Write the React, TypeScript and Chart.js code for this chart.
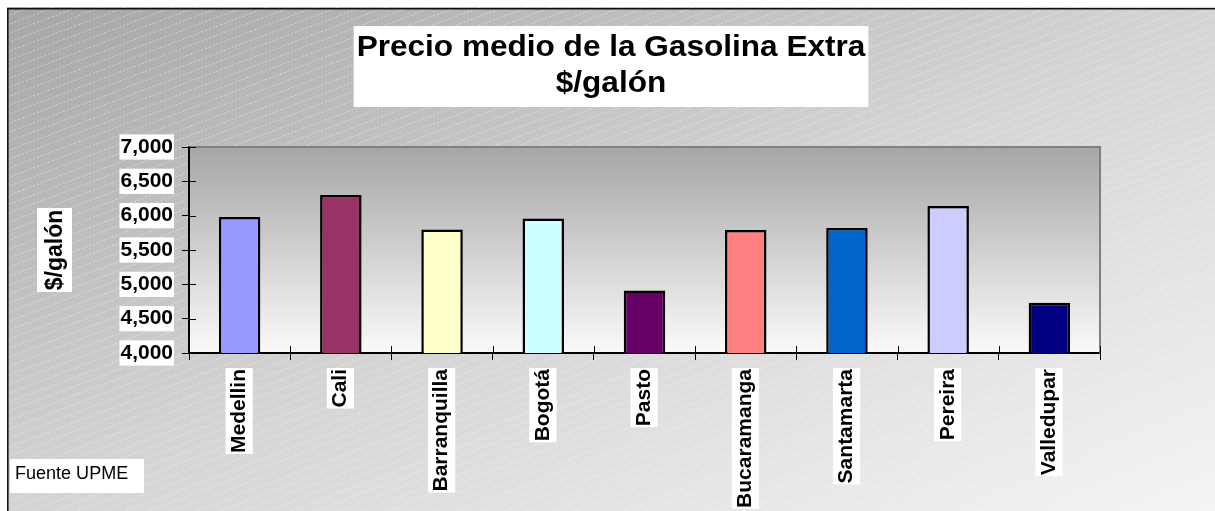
import React, { useEffect, useRef } from "react";
import { Chart, registerables } from "chart.js";

Chart.register(...registerables);

const categories = ["Medellin", "Cali", "Barranquilla", "Bogotá", "Pasto", "Bucaramanga", "Santamarta", "Pereira", "Valledupar"];
const prices = [5980, 6300, 5800, 5960, 4910, 5790, 5820, 6140, 4730];
const barColors = ["#9999FF", "#993366", "#FFFFCC", "#CCFFFF", "#660066", "#FF8080", "#0066CC", "#CCCCFF", "#000080"];
const yTicks = [4000, 4500, 5000, 5500, 6000, 6500, 7000];
const titleLines = ["Precio medio de la Gasolina Extra", "$/galón"];
const yAxisTitle = "$/galón";
const sourceNote = "Fuente UPME";

const FONT = '"Liberation Sans", Arial, Helvetica, sans-serif';
const W = 1208;
const H = 504;

const decor = {
  id: "decor",
  beforeDraw(chart: any) {
    const { ctx, chartArea: a } = chart;
    const w = chart.width;
    const h = chart.height;
    ctx.save();
    const k = 2 / (h / w + w / h);
    const g = ctx.createLinearGradient(0, 0, k * h, k * w);
    g.addColorStop(0, "#a6a6a6");
    g.addColorStop(0.5, "#d4d4d4");
    g.addColorStop(1, "#f4f4f4");
    ctx.fillStyle = g;
    ctx.fillRect(0, 0, w, h);
    ctx.strokeStyle = "rgba(255,255,255,0.45)";
    ctx.lineWidth = 1;
    ctx.setLineDash([2, 2]);
    const slope = 0.38;
    const gap = 9;
    for (let c = 0; c < h + w * slope; c += gap) {
      ctx.beginPath();
      ctx.moveTo(0, c);
      ctx.lineTo(w, c - w * slope);
      ctx.stroke();
    }
    ctx.setLineDash([]);
    ctx.strokeStyle = "#111";
    ctx.lineWidth = 1.6;
    ctx.beginPath();
    ctx.moveTo(0.8, h + 5);
    ctx.lineTo(0.8, 1.8);
    ctx.lineTo(w + 5, 1.8);
    ctx.stroke();
    const pg = ctx.createLinearGradient(0, a.top, 0, a.bottom);
    pg.addColorStop(0, "#a6a6a6");
    pg.addColorStop(1, "#fafafa");
    ctx.fillStyle = pg;
    ctx.fillRect(a.left, a.top, a.right - a.left, a.bottom - a.top);
    ctx.restore();
  },
  afterDatasetsDraw(chart: any) {
    const { ctx, chartArea: a } = chart;
    const xs = chart.scales.x;
    const ys = chart.scales.y;
    ctx.save();
    ctx.strokeStyle = "#808080";
    ctx.lineWidth = 2;
    ctx.beginPath();
    ctx.moveTo(a.left, a.top);
    ctx.lineTo(a.right, a.top);
    ctx.lineTo(a.right, a.bottom);
    ctx.stroke();
    ctx.strokeStyle = "#000";
    ctx.lineWidth = 1;
    ys.ticks.forEach((_t: any, i: number) => {
      const y = Math.round(ys.getPixelForTick(i)) + 0.5;
      ctx.beginPath();
      ctx.moveTo(a.left, y);
      ctx.lineTo(a.left + 7, y);
      ctx.stroke();
    });
    for (let i = 0; i <= categories.length; i++) {
      const x = Math.round(xs.getPixelForValue(i - 0.5)) + 0.5;
      ctx.beginPath();
      ctx.moveTo(x, a.bottom - 7);
      ctx.lineTo(x, a.bottom);
      ctx.stroke();
    }
    ctx.restore();
  },
  afterDraw(chart: any) {
    const { ctx, chartArea: a } = chart;
    const w = chart.width;
    ctx.save();
    const sx = 1.07;
    ctx.font = `bold 29.5px ${FONT}`;
    const tw = ctx.measureText(titleLines[0]).width * sx;
    const bw = tw + 6;
    ctx.fillStyle = "#fff";
    ctx.fillRect(w / 2 - bw / 2, 19, bw, 81);
    ctx.fillStyle = "#000";
    ctx.textAlign = "center";
    ctx.textBaseline = "alphabetic";
    [49, 85].forEach((by, i) => {
      ctx.save();
      ctx.translate(w / 2, by);
      ctx.scale(sx, 1);
      ctx.fillText(titleLines[i], 0, 0);
      ctx.restore();
    });
    ctx.save();
    ctx.translate(47.5, (a.top + a.bottom) / 2);
    ctx.rotate(-Math.PI / 2);
    ctx.fillStyle = "#fff";
    ctx.fillRect(-42, -17.5, 84, 35);
    ctx.fillStyle = "#000";
    ctx.font = `bold 23px ${FONT}`;
    ctx.textAlign = "center";
    ctx.textBaseline = "middle";
    ctx.fillText(yAxisTitle, 0, 1);
    ctx.restore();
    ctx.fillStyle = "#fff";
    ctx.fillRect(3, 452, 134, 34);
    ctx.fillStyle = "#000";
    ctx.font = `17.5px ${FONT}`;
    ctx.textAlign = "left";
    ctx.textBaseline = "alphabetic";
    ctx.save();
    ctx.translate(8, 472);
    ctx.scale(1.03, 1);
    ctx.fillText(sourceNote, 0, 0);
    ctx.restore();
    ctx.restore();
  },
};

export default function App() {
  const ref = useRef<HTMLCanvasElement | null>(null);
  useEffect(() => {
    if (!ref.current) return;
    const tickFont = { family: FONT, size: 21, weight: "bold" as const };
    const chart = new Chart(ref.current, {
      type: "bar",
      data: {
        labels: categories,
        datasets: [
          {
            data: prices,
            backgroundColor: barColors,
            borderColor: "#000",
            borderWidth: 2.5,
            borderSkipped: false,
            barPercentage: 0.41,
            categoryPercentage: 1,
          },
        ],
      },
      options: {
        animation: false,
        responsive: false,
        maintainAspectRatio: false,
        layout: { padding: { top: 140, right: 115, left: 0, bottom: 0 } },
        plugins: {
          legend: { display: false },
          title: { display: false },
          tooltip: { enabled: false },
        },
        scales: {
          x: {
            grid: { display: true, drawOnChartArea: false, drawTicks: true, tickLength: 7, color: "#000", lineWidth: 1, offset: true },
            border: { display: true, color: "#000", width: 2 },
            ticks: {
              font: tickFont,
              color: "#000",
              maxRotation: 90,
              minRotation: 90,
              padding: 9,
              labelOffset: -13,
              autoSkip: false,
              showLabelBackdrop: true,
              backdropColor: "#fff",
              backdropPadding: { x: 1, y: 1 },
            },
            afterFit(s: any) {
              s.height = 158;
            },
          },
          y: {
            min: 4000,
            max: 7000,
            afterBuildTicks(s: any) {
              s.ticks = yTicks.map((v) => ({ value: v }));
            },
            grid: { display: true, drawOnChartArea: false, drawTicks: true, tickLength: 7, color: "#000", lineWidth: 1 },
            border: { display: true, color: "#000", width: 2 },
            ticks: {
              font: tickFont,
              color: "#000",
              padding: 9,
              callback: (v: any) => Number(v).toLocaleString("en-US"),
              showLabelBackdrop: true,
              backdropColor: "#fff",
              backdropPadding: { x: 1, y: 0 },
            },
            afterFit(s: any) {
              s.width = 182;
            },
          },
        },
      },
      plugins: [decor],
    } as any);
    return () => chart.destroy();
  }, []);
  return (
    <div style={{ position: "absolute", left: 7, top: 7, width: W, height: H }}>
      <canvas ref={ref} width={W} height={H} style={{ width: W, height: H, display: "block" }} />
    </div>
  );
}
